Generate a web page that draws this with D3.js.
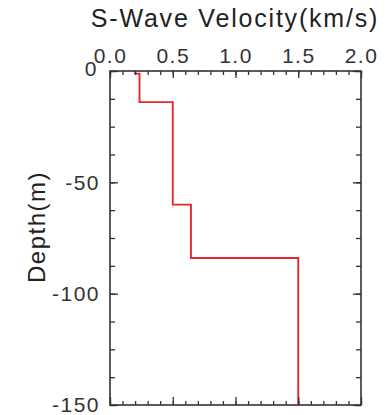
<!DOCTYPE html>
<html><head><meta charset="utf-8">
<script src="https://cdn.jsdelivr.net/npm/d3@7/dist/d3.min.js"></script>
<style>body{margin:0;background:#fff}svg{display:block}</style>
</head><body><svg id="c" width="392" height="415"></svg>
<script>
// Step profile: layer top/bottom depths (m) and S-wave velocity (km/s)
const layerTop = [0, 1.2, 14, 60, 84];
const layerBottom = [1.2, 14, 60, 84, 150];
const velocity = [0.2, 0.235, 0.5, 0.645, 1.5];
const xTicks = [0, 0.5, 1.0, 1.5, 2.0];
const yTicks = [0, -50, -100, -150];

const svg = d3.select("#c");
const L = 110, R = 361, T = 71, B = 405;
const x = d3.scaleLinear().domain([0, 2]).range([L, R]);
const y = d3.scaleLinear().domain([0, -150]).range([T, B]);
const font = "Liberation Sans, Arial, sans-serif";
const col = "#333";

// profile points
const pts = [];
velocity.forEach((v, i) => { pts.push([v, -layerTop[i]]); pts.push([v, -layerBottom[i]]); });

svg.append("path").datum(pts)
  .attr("fill", "none").attr("stroke", "#e8262e").attr("stroke-width", 1.9)
  .attr("d", d3.line().x(d => x(d[0])).y(d => y(d[1])));

function styleAxis(g) {
  g.select(".domain").remove();
  g.selectAll("line").attr("stroke", col).attr("stroke-width", 1.3);
  g.selectAll("text").attr("fill", "#333").style("font-family", font)
    .style("font-size", "21px").style("letter-spacing", "1.5px");
}
const minorX = d3.range(0, 2.0001, 0.1);
const minorY = d3.range(0, -150.001, -12.5);

// top axis
svg.append("g").attr("transform", `translate(0,${T})`)
  .call(d3.axisTop(x).tickValues(minorX).tickSize(-4).tickFormat(""))
  .call(styleAxis);
svg.append("g").attr("transform", `translate(0,${T})`)
  .call(d3.axisTop(x).tickValues(xTicks).tickSize(-7).tickPadding(8).tickFormat(d => d.toFixed(1)))
  .call(styleAxis);
// bottom axis (ticks only)
svg.append("g").attr("transform", `translate(0,${B})`)
  .call(d3.axisBottom(x).tickValues(minorX).tickSize(-4).tickFormat(""))
  .call(styleAxis);
svg.append("g").attr("transform", `translate(0,${B})`)
  .call(d3.axisBottom(x).tickValues(xTicks).tickSize(-8).tickFormat(""))
  .call(styleAxis);
// left axis
svg.append("g").attr("transform", `translate(${L},0)`)
  .call(d3.axisLeft(y).tickValues(minorY).tickSize(-5).tickFormat(""))
  .call(styleAxis);
const ly = svg.append("g").attr("transform", `translate(${L},0)`)
  .call(d3.axisLeft(y).tickValues(yTicks).tickSize(-8).tickPadding(10).tickFormat(d => String(d)))
  .call(styleAxis);
ly.selectAll("text").filter(d => d === 0).attr("dy", "0.2em").attr("x", -12);
// right axis
svg.append("g").attr("transform", `translate(${R},0)`)
  .call(d3.axisRight(y).tickValues(minorY).tickSize(-5).tickFormat(""))
  .call(styleAxis);
svg.append("g").attr("transform", `translate(${R},0)`)
  .call(d3.axisRight(y).tickValues(yTicks).tickSize(-8).tickFormat(""))
  .call(styleAxis);

// frame
svg.append("rect").attr("x", L).attr("y", T).attr("width", R - L).attr("height", B - T)
  .attr("fill", "none").attr("stroke", col).attr("stroke-width", 1.6);

// titles
svg.append("text").attr("x", 235).attr("y", 27).attr("text-anchor", "middle")
  .style("font-family", font).style("font-size", "25px").style("letter-spacing", "1.8px")
  .attr("fill", "#222").text("S-Wave Velocity(km/s)");
svg.append("text").attr("transform", "translate(45,227) rotate(-90)").attr("text-anchor", "middle")
  .style("font-family", font).style("font-size", "24px").style("letter-spacing", "1.5px")
  .attr("fill", "#222").text("Depth(m)");
</script></body></html>
